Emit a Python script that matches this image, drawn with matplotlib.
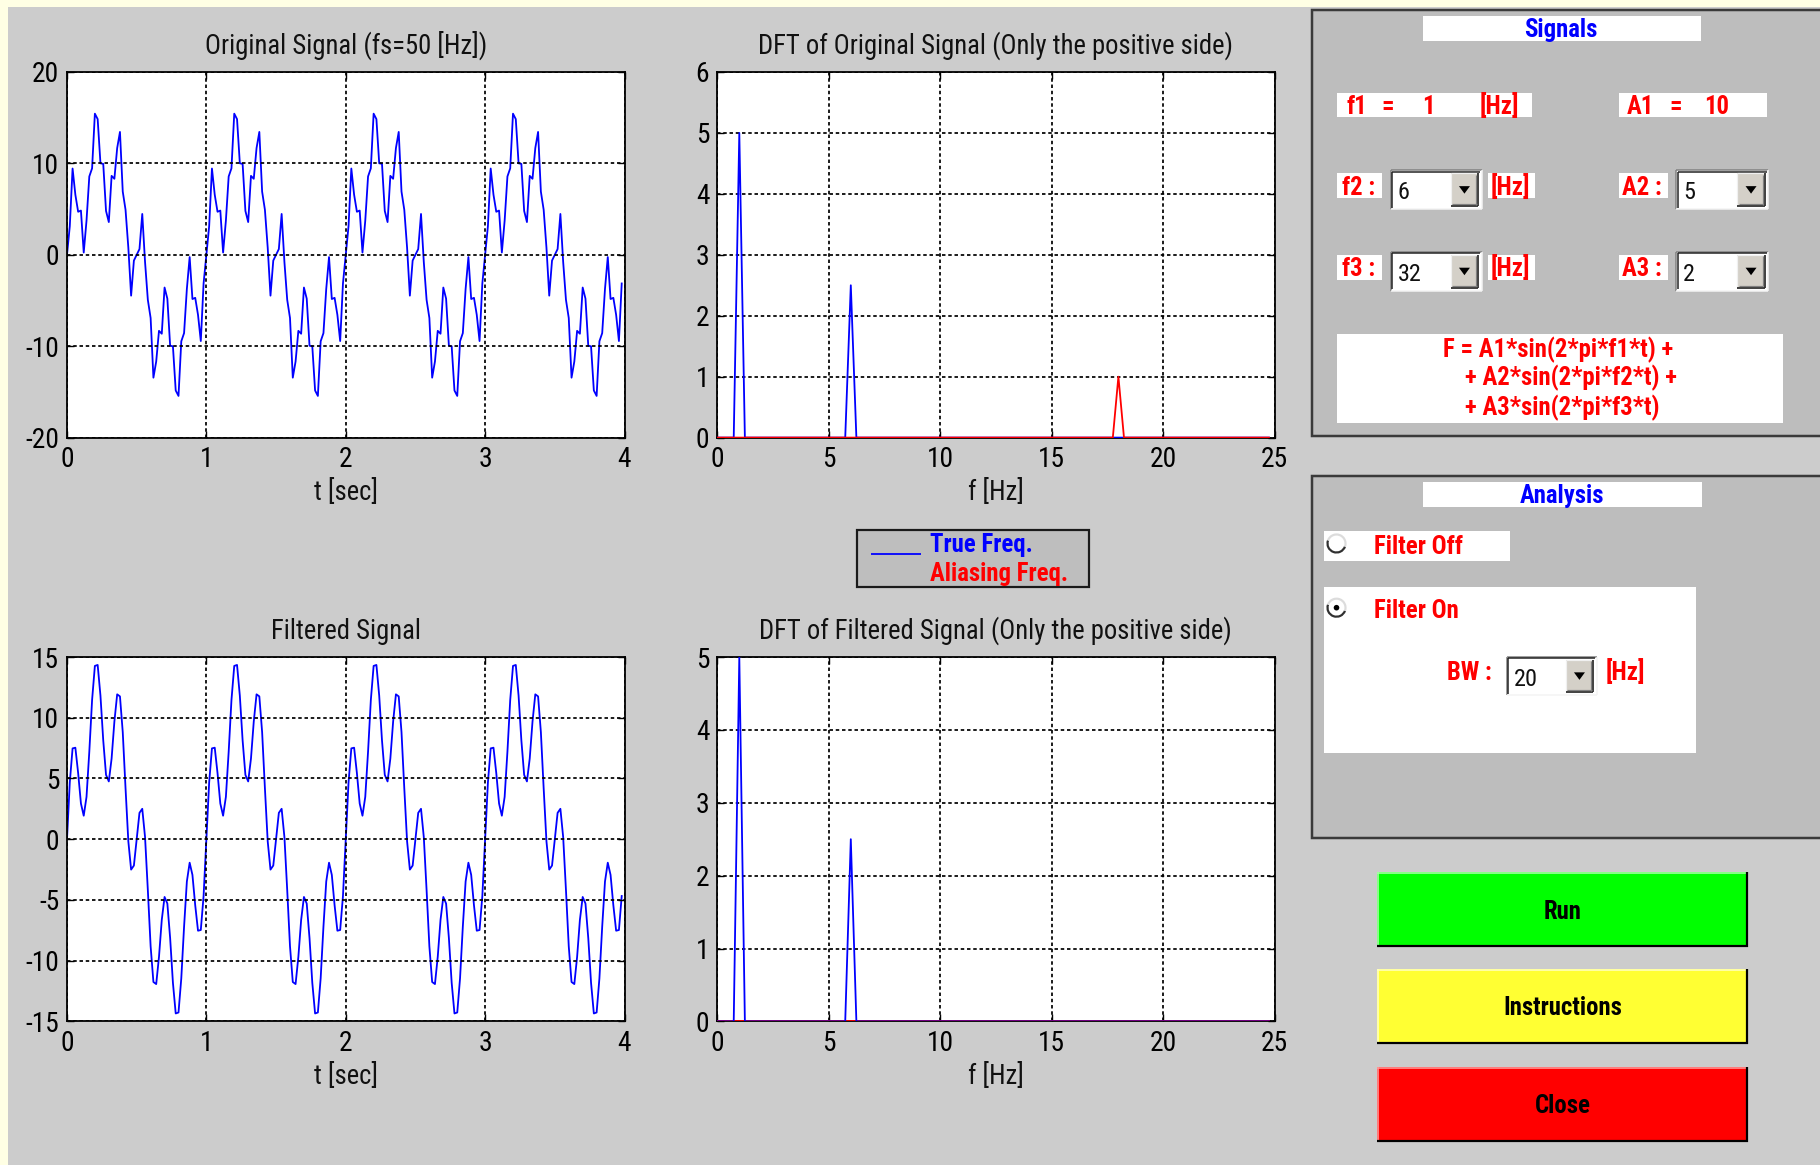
import numpy as np
import matplotlib
matplotlib.use('Agg')
import matplotlib.pyplot as plt
from matplotlib.patches import Rectangle, Circle, Polygon, Arc
from matplotlib.font_manager import FontProperties, fontManager
from matplotlib.textpath import text_to_path

# ---------------- data (values shown in the GUI) ----------------
fs_hz = 50
t_end_sec = 4
signal_freqs_hz = [1, 6, 32]
signal_amps = [10, 5, 2]
filter_bw_hz = 20

time_ticks = [0, 1, 2, 3, 4]
freq_ticks = [0, 5, 10, 15, 20, 25]
orig_yticks = [-20, -10, 0, 10, 20]
filt_yticks = [-15, -10, -5, 0, 5, 10, 15]
orig_dft_yticks = [0, 1, 2, 3, 4, 5, 6]
filt_dft_yticks = [0, 1, 2, 3, 4, 5]

# ---------------- signals ----------------
n = np.arange(int(fs_hz * t_end_sec))
t = n / fs_hz
comps = [a * np.sin(2 * np.pi * f * t) for f, a in zip(signal_freqs_hz, signal_amps)]
true_mask = [f < fs_hz / 2 for f in signal_freqs_hz]
keep_mask = [f <= filter_bw_hz for f in signal_freqs_hz]
zero = np.zeros_like(t)
x_orig = sum(comps)
x_true = sum([c for c, m in zip(comps, true_mask) if m], zero)
x_alias = sum([c for c, m in zip(comps, true_mask) if not m], zero)
x_filt = sum([c for c, k in zip(comps, keep_mask) if k], zero)
x_filt_alias = sum([c for c, k, m in zip(comps, keep_mask, true_mask) if k and not m], zero)

N = len(t)
half = N // 2
freq = np.arange(half) * fs_hz / N


def dft_pos(x):
    return np.abs(np.fft.fft(x))[:half] / N


# ---------------- font choice (prefer a narrow sans) ----------------
entries = [(f.name, f.stretch) for f in fontManager.ttflist]


def has(name, stretch=None):
    for nm, st in entries:
        if nm == name and (stretch is None or str(st) in stretch):
            return True
    return False


COND = ('condensed', 'semi-condensed', 'extra-condensed', '75', '87', '62')
if has('Liberation Sans Narrow'):
    FAM, STR = 'Liberation Sans Narrow', 'normal'
elif has('Roboto Condensed'):
    FAM, STR = 'Roboto Condensed', 'normal'
elif has('DejaVu Sans', COND):
    FAM, STR = 'DejaVu Sans', 'condensed'
elif has('Open Sans Condensed'):
    FAM, STR = 'Open Sans Condensed', 'normal'
else:
    FAM, STR = 'Liberation Sans', 'normal'


def fp_make(size, weight='normal'):
    return FontProperties(family=[FAM, 'DejaVu Sans'], stretch=STR, weight=weight, size=size)


def fit_size(s, target_px, weight='normal', cap=None):
    w, h, d = text_to_path.get_text_width_height_descent(s, fp_make(10, weight), ismath=False)
    size = 10 * target_px / (w * 100 / 72)
    if cap is not None:
        size = min(size, cap)
    return size


AX_SIZE = fit_size('Original Signal (fs=50 [Hz])', 283, cap=21)
TICK_SIZE = fit_size('-20', 34, cap=21)
GUI_SIZE = fit_size('Instructions', 119, weight='bold', cap=19)
POP_SIZE = fit_size('32', 24, cap=19)

# ---------------- figure ----------------
W, H = 1820, 1165
plt.rcParams['font.family'] = [FAM, 'DejaVu Sans']
plt.rcParams['font.stretch'] = STR
plt.rcParams['font.size'] = AX_SIZE
plt.rcParams['axes.unicode_minus'] = False
fig = plt.figure(figsize=(W / 100, H / 100), dpi=100, facecolor='#cccccc')

BLUE = '#0000ff'
RED = '#ff0000'


def make_ax(left, top, right, bottom):
    return fig.add_axes([left / W, 1 - bottom / H, (right - left) / W, (bottom - top) / H])


def style(ax, xlim, ylim, xt, yt, title, xlabel):
    ax.set_facecolor('white')
    ax.set_xlim(*xlim)
    ax.set_ylim(*ylim)
    ax.set_xticks(xt)
    ax.set_yticks(yt)
    ax.tick_params(direction='in', length=5, width=1, colors='black',
                   top=True, right=True, labelsize=TICK_SIZE)
    ax.tick_params(axis='x', pad=6.3)
    ax.tick_params(axis='y', pad=5.5)
    for s in ax.spines.values():
        s.set_linewidth(1.3)
        s.set_color('black')
    ax.grid(True, color='black', linestyle=(0, (2.0, 1.6)), linewidth=1.25)
    ax.set_axisbelow(False)
    ax.set_title(title, fontsize=AX_SIZE, pad=13, color='#111111')
    ax.set_xlabel(xlabel, fontsize=AX_SIZE, labelpad=4.3, color='#111111')


LW = 1.3

ax1 = make_ax(67, 72, 624.5, 437.6)
ax1.plot(t, x_orig, color=BLUE, lw=LW)
style(ax1, (0, 4), (-20, 20), time_ticks, orig_yticks, 'Original Signal (fs=50 [Hz])', 't [sec]')

ax2 = make_ax(717, 72, 1274.5, 437.6)
ax2.plot(freq, dft_pos(x_true), color=BLUE, lw=LW, zorder=3)
ax2.plot(freq, dft_pos(x_alias), color=RED, lw=LW, zorder=3.1)
style(ax2, (0, 25), (0, 6), freq_ticks, orig_dft_yticks,
      'DFT of Original Signal (Only the positive side)', 'f [Hz]')

ax3 = make_ax(67, 657, 624.5, 1021.4)
ax3.plot(t, x_filt, color=BLUE, lw=LW)
style(ax3, (0, 4), (-15, 15), time_ticks, filt_yticks, 'Filtered Signal', 't [sec]')

ax4 = make_ax(717, 657, 1274.5, 1021.4)
ax4.plot(freq, dft_pos(x_filt_alias), color=RED, lw=LW, zorder=3)
ax4.plot(freq, dft_pos(x_filt), color=BLUE, lw=LW, zorder=3.1)
style(ax4, (0, 25), (0, 5), freq_ticks, filt_dft_yticks,
      'DFT of Filtered Signal (Only the positive side)', 'f [Hz]')

# ---------------- GUI overlay (pixel coordinates) ----------------
ov = fig.add_axes([0, 0, 1, 1])
ov.set_xlim(0, W)
ov.set_ylim(H, 0)
ov.axis('off')
ov.patch.set_visible(False)

PX = 0.72  # points per pixel
gui_bold = fp_make(GUI_SIZE, 'bold')
gui_reg = fp_make(POP_SIZE)


def rect(x0, y0, x1, y1, fc, ec='none', lw=0, z=1):
    p = Rectangle((x0, y0), x1 - x0, y1 - y0, facecolor=fc, edgecolor=ec, linewidth=lw, zorder=z)
    ov.add_patch(p)
    return p


def seg(xs, ys, c, lw, z=3):
    ov.plot(xs, ys, color=c, lw=lw * PX, solid_capstyle='butt', zorder=z)


def gtext(x, yc, s, color, fp=gui_bold, ha='left', z=5, clip=None):
    size_px = fp.get_size_in_points() / PX
    txt = ov.text(x, yc + 0.36 * size_px, s, color=color, fontproperties=fp,
                  ha=ha, va='baseline', zorder=z)
    if clip is not None:
        txt.set_clip_path(clip)
    return txt


def sunken(x0, y0, x1, y1):
    seg([x0, x1], [y0, y0], '#808080', 1.5)
    seg([x0, x0], [y0, y1], '#808080', 1.5)
    seg([x0 + 1.5, x1 - 1.5], [y0 + 1.5, y0 + 1.5], '#202020', 1.5)
    seg([x0 + 1.5, x0 + 1.5], [y0 + 1.5, y1 - 1.5], '#202020', 1.5)
    seg([x0, x1], [y1, y1], '#f4f4f4', 1.5)
    seg([x1, x1], [y0, y1], '#f4f4f4', 1.5)


def raised(x0, y0, x1, y1, light='#ffffff', dark='#000000', mid='#808080', lw=1.5):
    seg([x0, x1], [y0, y0], light, lw)
    seg([x0, x0], [y0, y1], light, lw)
    seg([x0, x1], [y1, y1], dark, lw * 1.5)
    seg([x1, x1], [y0, y1], dark, lw * 1.5)
    seg([x0 + 1.5, x1 - 1.5], [y1 - 2, y1 - 2], mid, lw)
    seg([x1 - 2, x1 - 2], [y0 + 1.5, y1 - 1.5], mid, lw)


def popup(x0, y0, x1, y1, value):
    rect(x0, y0, x1, y1, 'white', z=2)
    sunken(x0, y0, x1, y1)
    bx0, bx1 = x1 - 31, x1 - 3.5
    by0, by1 = y0 + 3, y1 - 3
    rect(bx0, by0, bx1, by1, '#d4d0c8', z=3)
    raised(bx0, by0, bx1, by1, light='#f0f0f0', dark='#303030', mid='#808080', lw=1.2)
    cx, cy = (bx0 + bx1) / 2, (by0 + by1) / 2
    ov.add_patch(Polygon([[cx - 5.5, cy - 3.5], [cx + 5.5, cy - 3.5], [cx, cy + 4]],
                         closed=True, facecolor='black', edgecolor='none', zorder=4))
    gtext(x0 + 7, (y0 + y1) / 2 + 1, value, '#111111', fp=gui_reg)


# yellow outer strips
rect(0, 0, W, 6.5, '#ffffe4', z=0)
rect(0, 0, 8, H, '#ffffe4', z=0)

# ---- Signals panel ----
rect(1312, 10, W + 20, 436, '#bdbdbd', ec='#3a3a3a', lw=2.5 * PX, z=1)
rect(1422.5, 15.5, 1701, 40.5, 'white', z=2)
gtext(1561, 28, 'Signals', BLUE, ha='center')

rect(1336.5, 93.3, 1531.5, 116.7, 'white', z=2)
gtext(1346.5, 105.5, 'f1', RED)
gtext(1388, 105.5, '=', RED, ha='center')
gtext(1428.7, 105.5, '1', RED, ha='center')
gtext(1480, 105.5, '[Hz]', RED)

rect(1619.3, 93.3, 1767.3, 116.7, 'white', z=2)
gtext(1626.5, 105.5, 'A1', RED)
gtext(1676, 105.5, '=', RED, ha='center')
gtext(1716.5, 105.5, '10', RED, ha='center')

rows = [(173.3, 198.3, 170.0, 209.3, 'f2 :', 'A2 :', str(signal_freqs_hz[1]), str(signal_amps[1])),
        (255.0, 280.0, 251.7, 290.7, 'f3 :', 'A3 :', str(signal_freqs_hz[2]), str(signal_amps[2]))]
for ly0, ly1, py0, py1, flab, alab, fval, aval in rows:
    yc = (ly0 + ly1) / 2
    rect(1336.7, ly0, 1381.7, ly1, 'white', z=2)
    gtext(1341.5, yc, flab, RED)
    popup(1390.7, py0, 1481.7, py1, fval)
    rect(1488, ly0, 1535, ly1, 'white', z=2)
    gtext(1490.5, yc, '[Hz]', RED)
    rect(1619, ly0, 1668, ly1, 'white', z=2)
    gtext(1621.5, yc, alab, RED)
    popup(1676, py0, 1768.3, py1, aval)

rect(1336.7, 334, 1783.3, 423.3, 'white', z=2)
gtext(1443.3, 348.3, 'F = A1*sin(2*pi*f1*t) +', RED)
gtext(1465, 376.7, '+ A2*sin(2*pi*f2*t) +', RED)
gtext(1465, 406.7, '+ A3*sin(2*pi*f3*t)', RED)

# ---- Analysis panel ----
rect(1312, 476, W + 20, 837.5, '#bdbdbd', ec='#3a3a3a', lw=2.5 * PX, z=1)
rect(1422.5, 481.7, 1701.7, 506.7, 'white', z=2)
gtext(1561.7, 494.5, 'Analysis', BLUE, ha='center')

rect(1324.3, 530.7, 1510, 561, 'white', z=2)
rect(1324.3, 586.7, 1696, 753.3, 'white', z=2)


def radio(cx, cy, on):
    ov.add_patch(Circle((cx, cy), 8.5, facecolor='white', edgecolor='none', zorder=3))
    ov.add_patch(Arc((cx, cy), 18, 18, theta1=20, theta2=200, color='#303030', lw=2.2 * PX, zorder=4))
    ov.add_patch(Arc((cx, cy), 18, 18, theta1=200, theta2=380, color='#dcdcdc', lw=2.2 * PX, zorder=4))
    if on:
        ov.add_patch(Circle((cx, cy), 2.8, facecolor='black', edgecolor='none', zorder=5))


radio(1336.5, 543.5, False)
gtext(1374, 545, 'Filter Off', RED)
radio(1336.5, 607.7, True)
gtext(1374, 609, 'Filter On', RED)

gtext(1447.3, 670.7, 'BW :', RED)
popup(1506.7, 656.7, 1596.7, 695, str(filter_bw_hz))
gtext(1606, 670.7, '[Hz]', RED)

# ---- Buttons ----
buttons = [('Run', '#00ff00', '#a8ffa8', 872.3, 947.3),
           ('Instructions', '#ffff33', '#ffffc0', 969, 1044),
           ('Close', '#ff0000', '#ff9a9a', 1066.7, 1141.7)]
for label, fc, light, y0, y1 in buttons:
    rect(1377.3, y0, 1748.3, y1, fc, z=2)
    seg([1377.3, 1748.3], [y0 + 0.8, y0 + 0.8], light, 1.6)
    seg([1378.1, 1378.1], [y0, y1], light, 1.6)
    seg([1377.3, 1748.3], [y1 - 1, y1 - 1], '#000000', 2.2)
    seg([1747.3, 1747.3], [y0, y1], '#000000', 2.2)
    gtext(1562.8, (y0 + y1) / 2, label, 'black', ha='center')

# ---- legend box of DFT plot ----
leg = rect(857, 529.5, 1088.5, 587.3, '#bebebe', ec='#1a1a1a', lw=2.2 * PX, z=2)
seg([870.5, 920.5], [554, 554], BLUE, 1.8, z=4)
clip_box = Rectangle((858, 530.5), 229.5, 55.8, transform=ov.transData)
gtext(929.7, 543.2, 'True Freq.', BLUE, clip=clip_box)
gtext(929.7, 572.5, 'Aliasing Freq.', RED, clip=clip_box)

fig.savefig('out.png', dpi=100, facecolor=fig.get_facecolor())
